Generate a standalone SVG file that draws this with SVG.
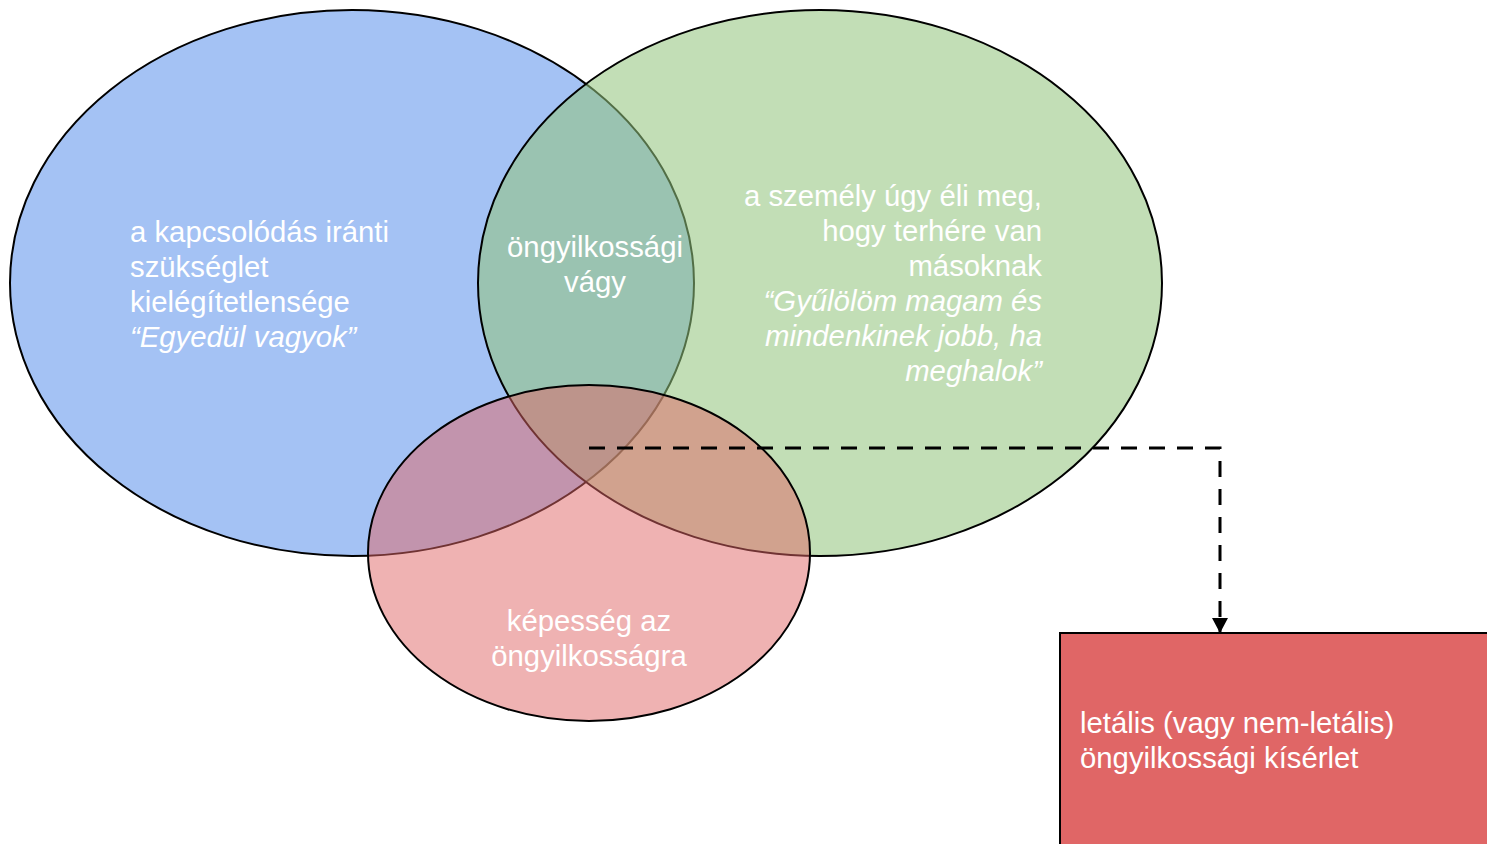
<svg xmlns="http://www.w3.org/2000/svg" width="1487" height="844" viewBox="0 0 1487 844">
<style>
.t{font-family:"Liberation Sans",Arial,sans-serif;font-size:29.3px;fill:#ffffff}
.i{font-style:italic}
.ol{stroke:#000;stroke-width:2}
</style>
<defs>
<marker id="ah2" markerWidth="16" markerHeight="16" refX="15" refY="8" orient="auto" markerUnits="userSpaceOnUse" viewBox="0 0 16 16">
<path d="M0,0 L15,8 L0,16 Z" fill="#000"/>
</marker>
</defs>
<rect width="1487" height="844" fill="#fff"/>
<g id="node-connection">
<ellipse class="ol" cx="352" cy="283" rx="342" ry="273" fill="#a4c2f4"/>
</g>
<g id="node-burden">
<ellipse class="ol" cx="820" cy="283" rx="342" ry="273" fill="#93c47d" fill-opacity="0.56"/>
</g>
<g id="node-capability">
<ellipse class="ol" cx="589" cy="553" rx="221" ry="168" fill="#e06666" fill-opacity="0.5"/>
</g>
<g id="node-attempt">
<rect class="ol" x="1060" y="633" width="440" height="230" fill="#e06666"/>
</g>
<g id="connectors">
<path d="M589,448 H1220 V633" fill="none" stroke="#000" stroke-width="3" stroke-dasharray="16 12" marker-end="url(#ah2)"/>
</g>
<g id="labels">
<text class="t" x="130" y="242">a kapcsolódás iránti</text>
<text class="t" x="130" y="277">szükséglet</text>
<text class="t" x="130" y="312">kielégítetlensége</text>
<text class="t i" x="130" y="347">“Egyedül vagyok”</text>
<text class="t" x="595" y="257" text-anchor="middle">öngyilkossági</text>
<text class="t" x="595" y="292" text-anchor="middle">vágy</text>
<text class="t" x="1042" y="206" text-anchor="end">a személy úgy éli meg,</text>
<text class="t" x="1042" y="241" text-anchor="end">hogy terhére van</text>
<text class="t" x="1042" y="276" text-anchor="end">másoknak</text>
<text class="t i" x="1042" y="311" text-anchor="end">“Gyűlölöm magam és</text>
<text class="t i" x="1042" y="346" text-anchor="end">mindenkinek jobb, ha</text>
<text class="t i" x="1042" y="381" text-anchor="end">meghalok”</text>
<text class="t" x="589" y="631" text-anchor="middle">képesség az</text>
<text class="t" x="589" y="666" text-anchor="middle">öngyilkosságra</text>
<text class="t" x="1080" y="733">letális (vagy nem-letális)</text>
<text class="t" x="1080" y="768">öngyilkossági kísérlet</text>
</g>
</svg>
